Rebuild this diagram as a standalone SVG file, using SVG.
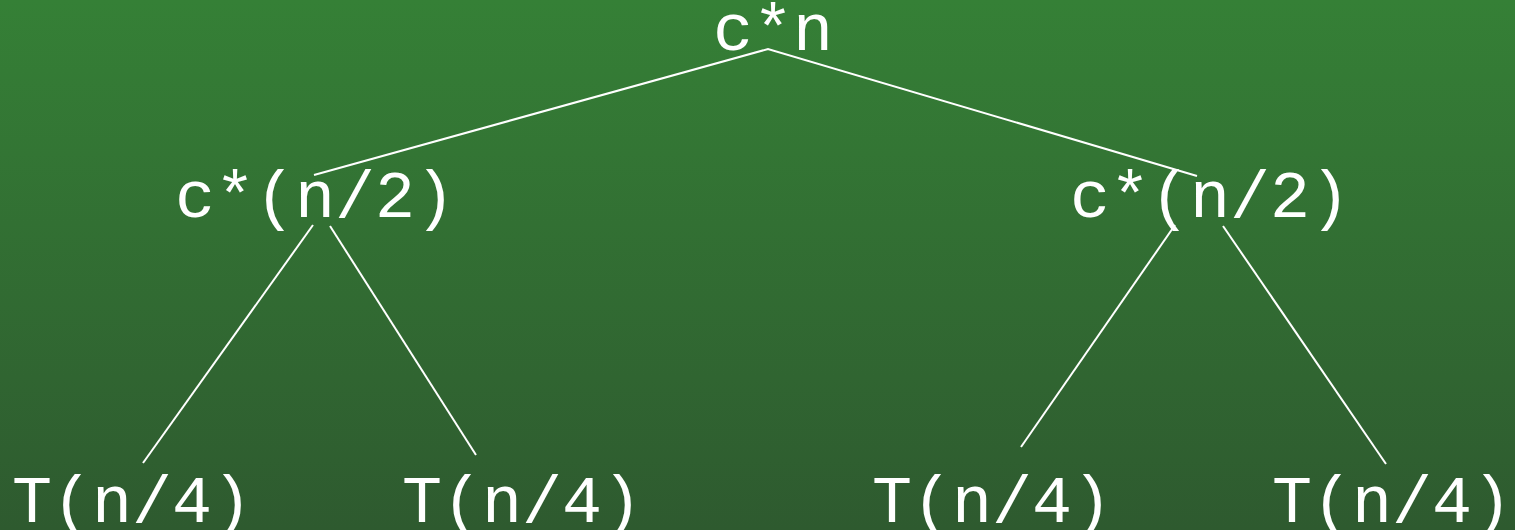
<svg xmlns="http://www.w3.org/2000/svg" width="1515" height="530" viewBox="0 0 1515 530">
<defs>
<linearGradient id="bg" x1="0" y1="0" x2="0" y2="1">
<stop offset="0" stop-color="#358036"/>
<stop offset="1" stop-color="#2e5a2f"/>
</linearGradient>
<style>
.t{font-family:"Liberation Mono","Courier New",monospace;font-size:66.7px;fill:#ffffff;text-anchor:middle}
.e{stroke:#ffffff;stroke-width:2;fill:none}
</style>
</defs>
<rect width="1515" height="530" fill="url(#bg)"/>
<g id="connectors">
<polyline class="e" points="314,175 768,49 1197,176"/>
<line class="e" x1="313" y1="225" x2="143" y2="463"/>
<line class="e" x1="330" y1="226" x2="476" y2="455"/>
<line class="e" x1="1175" y1="225" x2="1021" y2="447"/>
<line class="e" x1="1223" y1="226" x2="1386" y2="464"/>
</g>
<g id="root"><text class="t" x="773" y="50">c*n</text></g>
<g id="left"><text class="t" x="315" y="217">c*(n/2)</text></g>
<g id="right"><text class="t" x="1210" y="217">c*(n/2)</text></g>
<g id="ll"><text class="t" x="132" y="522">T(n/4)</text></g>
<g id="lr"><text class="t" x="522" y="522">T(n/4)</text></g>
<g id="rl"><text class="t" x="992" y="522">T(n/4)</text></g>
<g id="rr"><text class="t" x="1392" y="522">T(n/4)</text></g>
</svg>
